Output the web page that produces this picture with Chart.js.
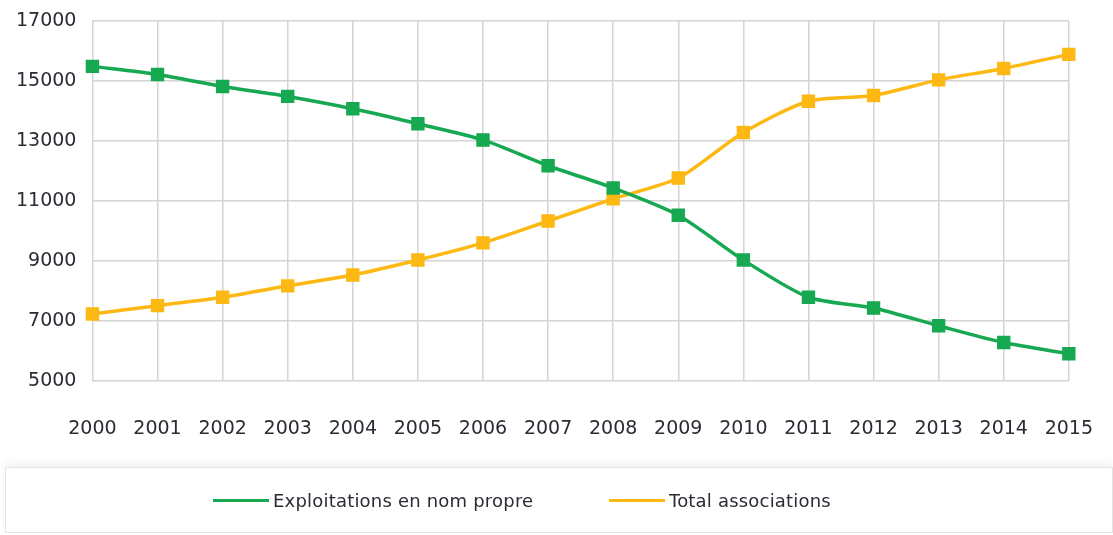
<!DOCTYPE html>
<html lang="fr">
<head>
<meta charset="utf-8">
<script src="https://cdn.jsdelivr.net/npm/chart.js@4/dist/chart.umd.min.js"></script>
<style>
  html, body { margin: 0; padding: 0; background: #fff; }
  #wrap { position: relative; width: 1113px; height: 535px; overflow: hidden; }
  #chart { position: absolute; left: 0; top: 0; }
  #legend {
    position: absolute; left: 5px; top: 467px; width: 1106px; height: 64px;
    border: 1px solid #e4e4e4; box-shadow: 0 -5px 9px rgba(0,0,0,0.05);
    font-family: "DejaVu Sans", sans-serif; font-size: 18px; color: #2b2b35;
  }
  .item { position: absolute; top: 22px; display: flex; align-items: center; letter-spacing: 0.2px; }
  .swatch { display: inline-block; width: 56px; height: 3px; margin-right: 4px; }
</style>
</head>
<body>
<div id="wrap">
  <canvas id="chart" width="1113" height="455"></canvas>
  <div id="legend"></div>
</div>
<script>
// Données
const annees = ["2000", "2001", "2002", "2003", "2004", "2005", "2006", "2007",
  "2008", "2009", "2010", "2011", "2012", "2013", "2014", "2015"];
const nomPropre = [15480, 15210, 14810, 14480, 14070, 13570, 13030, 12170,
  11430, 10520, 9030, 7790, 7430, 6840, 6280, 5910];
const associations = [7230, 7510, 7790, 8170, 8530, 9030, 9600, 10330,
  11070, 11760, 13280, 14320, 14510, 15030, 15410, 15880];
const yTicks = [5000, 7000, 9000, 11000, 13000, 15000, 17000];

const VERT = "#17a852";
const ORANGE = "#fdb813";

const series = [
  { label: "Exploitations en nom propre", data: nomPropre, color: VERT, left: 207 },
  { label: "Total associations", data: associations, color: ORANGE, left: 603 },
];

const legend = document.getElementById("legend");
legend.innerHTML = series
  .map((s) => `<div class="item" style="left:${s.left}px"><span class="swatch" style="background:${s.color}"></span>${s.label}</div>`)
  .join("");

// lineHeight sert ici à caler les libellés sans gonfler les marges de l'axe
const xFont = { family: "DejaVu Sans", size: 19, lineHeight: 3 };
const yFont = { family: "DejaVu Sans", size: 19, lineHeight: 0.5 };

new Chart(document.getElementById("chart"), {
  type: "line",
  data: {
    labels: annees,
    datasets: series.map((s) => ({
      label: s.label,
      data: s.data,
      borderColor: s.color,
      backgroundColor: s.color,
      borderWidth: 3.5,
      pointStyle: "rect",
      pointRadius: 7,
      pointHoverRadius: 7,
      tension: 0.25,
    })),
  },
  options: {
    responsive: false,
    animation: false,
    layout: { autoPadding: false, padding: 0 },
    plugins: { legend: { display: false }, tooltip: { enabled: false } },
    scales: {
      x: {
        grid: { color: "#d4d4d4", lineWidth: 1.5, drawTicks: false },
        border: { display: false },
        ticks: { font: xFont, color: "#2b2b35", padding: 20, maxRotation: 0 },
        afterFit: (scale) => { scale.height = 74; },
      },
      y: {
        min: 5000,
        max: 17000,
        afterBuildTicks: (axis) => { axis.ticks = yTicks.map((v) => ({ value: v })); },
        grid: { color: "#d4d4d4", lineWidth: 1.5, drawTicks: false },
        border: { display: false },
        ticks: { font: yFont, color: "#2b2b35", padding: 16, callback: (v) => String(v) },
      },
    },
  },
});
</script>
</body>
</html>
